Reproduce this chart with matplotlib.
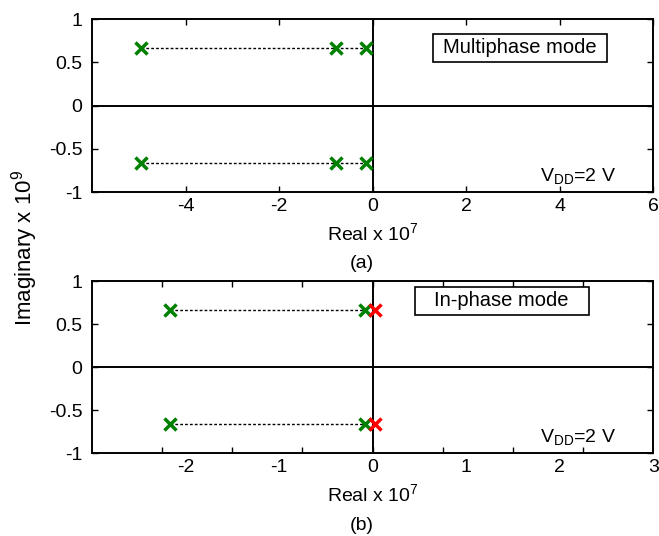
import matplotlib
matplotlib.use("Agg")
import matplotlib.pyplot as plt
import matplotlib.patches as mpatches
import numpy as np

plt.rcParams['font.family'] = ['Liberation Sans', 'DejaVu Sans']
plt.rcParams['mathtext.fontset'] = 'custom'
plt.rcParams['mathtext.rm'] = 'Liberation Sans'
plt.rcParams['mathtext.it'] = 'Liberation Sans'

# pole locations (real x 1e7, imag x 1e9)
multi_re = [-4.96, -0.79, -0.14]
multi_im = [0.66, -0.66]
inphase_green_re = [-2.17, -0.08]
inphase_red_re = [0.02]
inphase_im = [0.66, -0.66]

fig = plt.figure(figsize=(6.59, 5.36), dpi=100)
ax1 = fig.add_axes([92 / 659, 1 - 192.3 / 536, 561.3 / 659, 173.3 / 536])
ax2 = fig.add_axes([92 / 659, 1 - 453.3 / 536, 561.3 / 659, 172.3 / 536])

fs = 14
lw = 1.4


def setup(ax, box_text, box_xy):
    ax.axhline(0, color='black', lw=lw, zorder=1)
    ax.axvline(0, color='black', lw=lw, zorder=1)
    ax.set_ylim(-1, 1)
    ax.set_yticks([-1, -0.5, 0, 0.5, 1])
    ax.set_yticklabels(['-1', '-0.5', '0', '0.5', '1'])
    ax.tick_params(direction='in', top=True, right=True, labelsize=fs,
                   length=4.3, width=1.0)
    ax.tick_params(axis='y', pad=7)
    ax.tick_params(axis='x', pad=4)
    for s in ax.spines.values():
        s.set_linewidth(lw)
    ax.set_xlabel('Real x 10$^7$', fontsize=fs)
    ax.xaxis.set_label_coords(0.5, -0.175)
    ax.text(0.933, 0.064, 'V$_{\\mathregular{DD}}$=2 V', transform=ax.transAxes,
            ha='right', va='baseline', fontsize=fs)
    # fixed size annotation box
    bw, bh = 174 / 561.3, 28.6 / 173
    ax.add_patch(mpatches.Rectangle((box_xy[0] - bw / 2, box_xy[1] - bh / 2),
                                    bw, bh, transform=ax.transAxes,
                                    fc='white', ec='black', lw=1.2, zorder=5))
    ax.text(box_xy[0], box_xy[1], box_text, transform=ax.transAxes,
            ha='center', va='center', fontsize=14.5, zorder=6)


def poles(ax, re, im_vals, color):
    for im in im_vals:
        ax.plot(re, [im] * len(re), 'x', color=color, ms=8.5, mew=2.5,
                zorder=4 if color == 'red' else 3)


# (a) multiphase
setup(ax1, 'Multiphase mode', (0.762, 0.833))
ax1.set_xlim(-6, 6)
ax1.set_xticks([-4, -2, 0, 2, 4, 6])
ax1.set_xticklabels(['-4', '-2', '0', '2', '4', '6'])
for im in multi_im:
    ax1.plot([min(multi_re), max(multi_re)], [im, im], ls=(0, (2, 1.5)),
             color='black', lw=1, zorder=2)
poles(ax1, multi_re, multi_im, 'green')
fig.text(362 / 659, 1 - 264 / 536, '(a)', ha='center', va='center', fontsize=fs)

# (b) in-phase
setup(ax2, 'In-phase mode', (0.730, 0.885))
ax2.set_xlim(-3, 3)
ax2.xaxis.remove_overlapping_locs = False
ax2.set_xticks(np.arange(-2.25, 2.26, 0.75))
ax2.set_xticklabels([])
ax2.set_xticks([-2, -1, 0, 1, 2, 3], minor=True)
ax2.set_xticklabels(['-2', '-1', '0', '1', '2', '3'], minor=True)
ax2.tick_params(axis='x', which='minor', length=0, labelsize=fs, pad=4)
for im in inphase_im:
    ax2.plot([min(inphase_green_re), max(inphase_green_re)], [im, im],
             ls=(0, (2, 1.5)), color='black', lw=1, zorder=2)
poles(ax2, inphase_green_re, inphase_im, 'green')
poles(ax2, inphase_red_re, inphase_im, 'red')
fig.text(362 / 659, 1 - 525.7 / 536, '(b)', ha='center', va='center',
         fontsize=fs)

fig.text(25 / 659, 1 - 248 / 536, 'Imaginary x 10$^9$', rotation=90,
         ha='center', va='center', fontsize=16)

fig.savefig('out.png', dpi=100)
